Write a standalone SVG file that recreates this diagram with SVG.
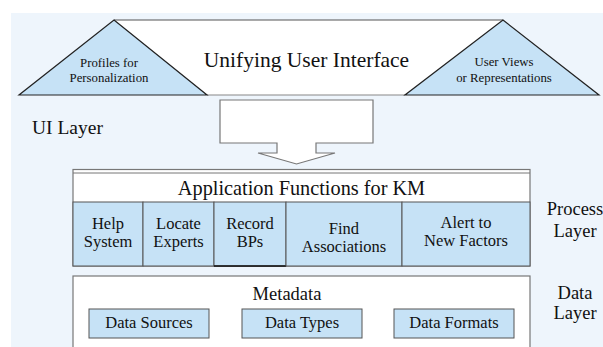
<svg xmlns="http://www.w3.org/2000/svg" width="603" height="347" viewBox="0 0 603 347">
<style>
text{font-family:'Liberation Serif','Times New Roman',serif;fill:#111;text-anchor:middle}
.tri{fill:#c6e2f6;stroke:#222;stroke-width:1.2}
.cell{fill:#c6e2f6;stroke:#555;stroke-width:1}
.box{fill:#fff;stroke:#777;stroke-width:1.2}
.t13{font-size:12.8px}
.t17{font-size:16.5px}
.t19{font-size:18.5px}
</style>
<rect x="11" y="13" width="592" height="334" fill="#eef5fc"/>
<g id="ui-layer">
<polygon points="114,20 503,20 405,95 207,95" fill="#fff"/>
<line x1="114" y1="20" x2="503" y2="20" stroke="#555" stroke-width="1.2"/>
<line x1="207" y1="95" x2="405" y2="95" stroke="#888" stroke-width="1.2"/>
<text x="306.5" y="67" style="font-size:21.5px">Unifying User Interface</text>
<text x="32" y="134" style="font-size:19.5px;text-anchor:start">UI Layer</text>
</g>
<g id="profiles">
<polygon class="tri" points="114,20 207,95 19,95"/>
<text class="t13" x="109" y="67">Profiles for</text>
<text class="t13" x="109" y="82">Personalization</text>
</g>
<g id="user-views">
<polygon class="tri" points="503,20 599,95 405,95"/>
<text class="t13" x="504" y="66">User Views</text>
<text class="t13" x="504" y="82">or Representations</text>
</g>
<g id="connectors">
<polygon points="220,100 373,100 373,143 316,143 316,153 335,153 296.5,164 258,153 277,153 277,143 220,143" fill="#fff" stroke="#777" stroke-width="1.2"/>
</g>
<g id="app-functions">
<rect class="box" x="73" y="169.5" width="457" height="96.5"/>
<line x1="73" y1="173" x2="530" y2="173" stroke="#777" stroke-width="1"/>
<text x="301.5" y="195" style="font-size:20.3px">Application Functions for KM</text>
</g>
<g id="help-system">
<rect class="cell" x="73" y="202" width="70" height="64"/>
<text class="t17" x="108" y="228.5">Help</text>
<text class="t17" x="108" y="247">System</text>
</g>
<g id="locate-experts">
<rect class="cell" x="143" y="202" width="71" height="64"/>
<text class="t17" x="178.5" y="228.5">Locate</text>
<text class="t17" x="178.5" y="247">Experts</text>
</g>
<g id="record-bps">
<rect class="cell" x="214" y="202" width="72" height="64"/>
<line x1="214" y1="266" x2="286" y2="266" stroke="#111" stroke-width="1.6"/>
<text class="t17" x="250" y="228.5">Record</text>
<text class="t17" x="250" y="247">BPs</text>
</g>
<g id="find-associations">
<rect class="cell" x="286" y="202" width="116" height="64"/>
<text class="t17" x="344" y="233.5">Find</text>
<text class="t17" x="344" y="252">Associations</text>
</g>
<g id="alert-new-factors">
<rect class="cell" x="402" y="202" width="128" height="64"/>
<text class="t17" x="466" y="227.5">Alert to</text>
<text class="t17" x="466" y="246">New Factors</text>
</g>
<g id="process-layer">
<text class="t19" x="575" y="215">Process</text>
<text class="t19" x="575" y="237">Layer</text>
</g>
<g id="metadata">
<rect class="box" x="73" y="276" width="457" height="80"/>
<text class="t19" x="287" y="300">Metadata</text>
</g>
<g id="data-sources">
<rect class="cell" x="89" y="309" width="120" height="29"/>
<text class="t17" x="149" y="328">Data Sources</text>
</g>
<g id="data-types">
<rect class="cell" x="242" y="309" width="120" height="29"/>
<text class="t17" x="302" y="328">Data Types</text>
</g>
<g id="data-formats">
<rect class="cell" x="394" y="309" width="120" height="29"/>
<text class="t17" x="454" y="328">Data Formats</text>
</g>
<g id="data-layer">
<text class="t19" x="575" y="299">Data</text>
<text class="t19" x="575" y="319">Layer</text>
</g>
</svg>
